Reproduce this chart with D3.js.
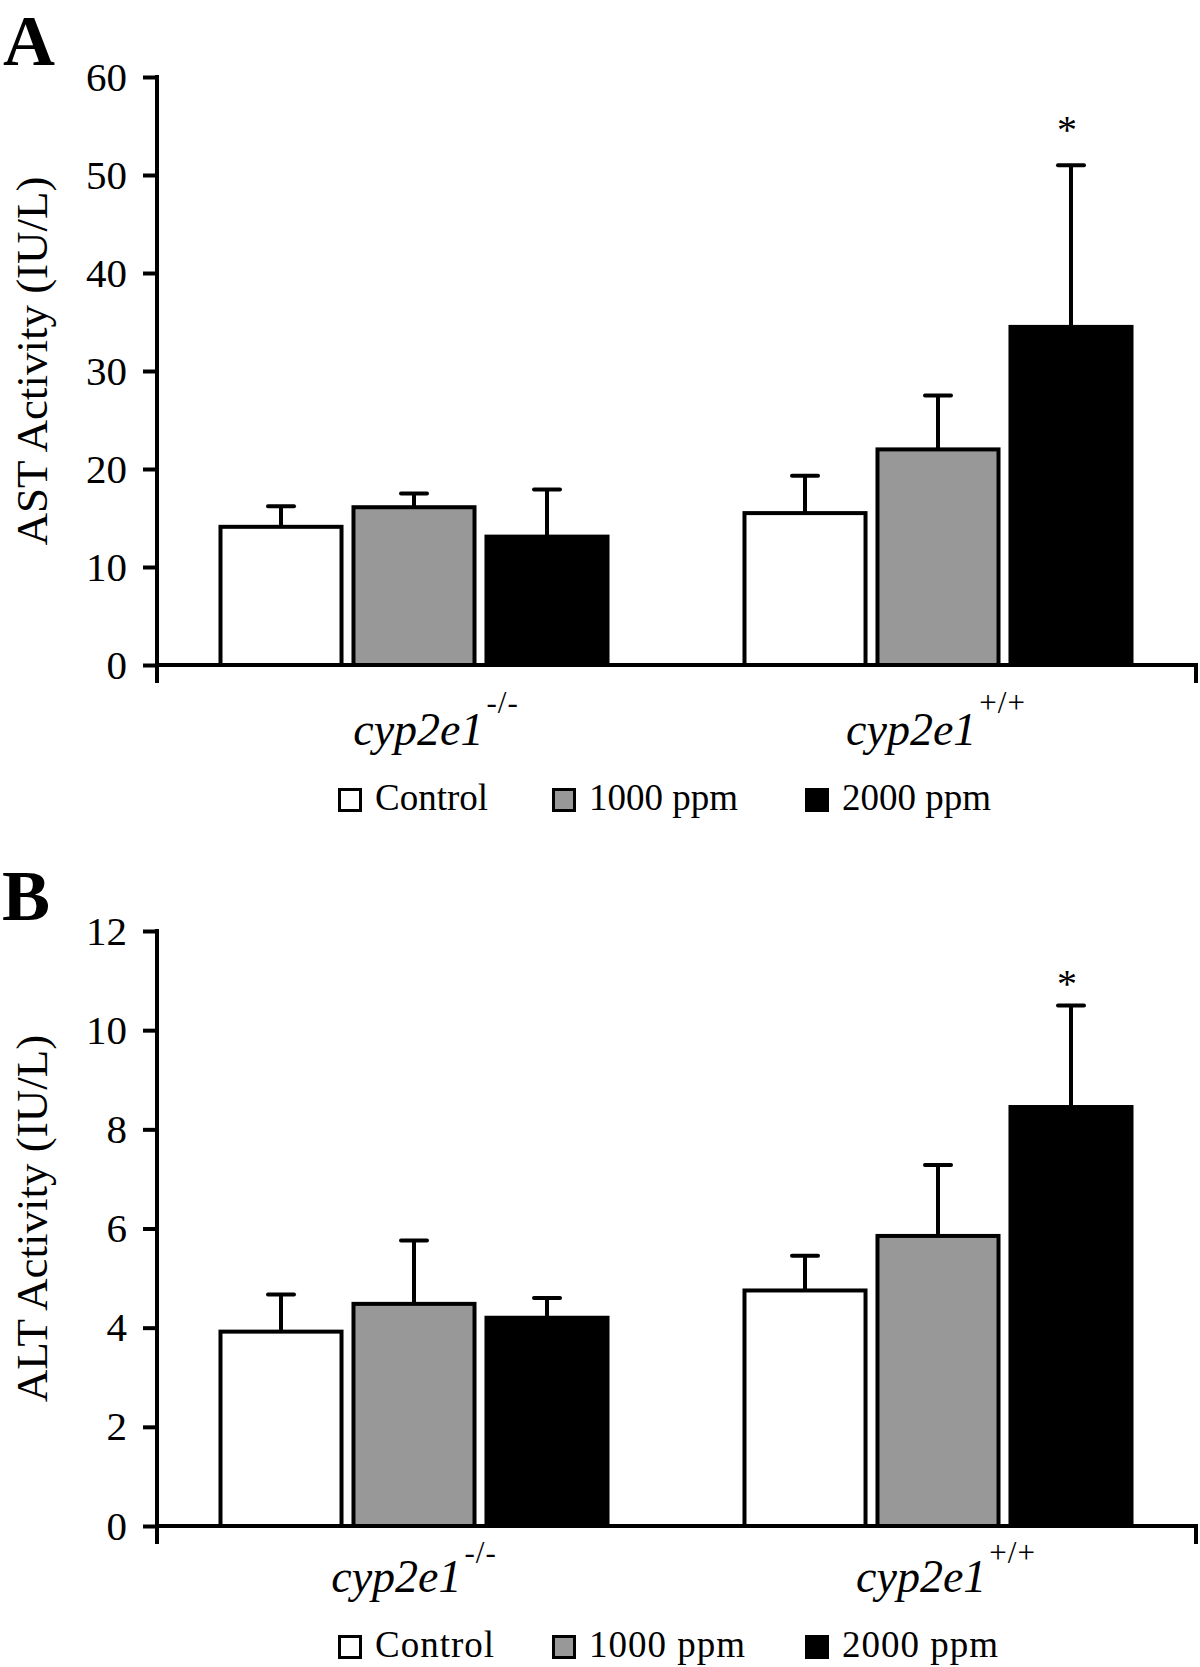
<!DOCTYPE html>
<html>
<head>
<meta charset="utf-8">
<script src="https://cdn.jsdelivr.net/npm/d3@7"></script>
<style>
  html, body { margin: 0; padding: 0; background: #fff; }
  svg { display: block; }
  text { font-family: "Liberation Serif", "Times New Roman", serif; fill: #000; }
</style>
</head>
<body>
<div id="chart"></div>
<script>
// ---------------- data ----------------
const groups = ["cyp2e1", "cyp2e1"];
const groupSup = ["-/-", "+/+"];
const series = ["Control", "1000 ppm", "2000 ppm"];

const astTicks = [0, 10, 20, 30, 40, 50, 60];
const astMean = [[14.1, 16.1, 13.1], [15.5, 22.0, 34.5]];
const astSD   = [[2.1, 1.4, 4.8], [3.8, 5.5, 16.5]];

const altTicks = [0, 2, 4, 6, 8, 10, 12];
const altMean = [[3.92, 4.48, 4.20], [4.75, 5.85, 8.45]];
const altSD   = [[0.75, 1.28, 0.40], [0.70, 1.43, 2.05]];

const significant = [[false, false, false], [false, false, true]];

// ---------------- styles ----------------
const seriesFill = ["#ffffff", "#989898", "#000000"];

const W = 1200, H = 1667;
const svg = d3.select("#chart").append("svg").attr("width", W).attr("height", H);

const AXIS_X = 157, AXIS_END = 1198;

function drawPanel(cfg) {
  const g = svg.append("g");
  const y = d3.scaleLinear().domain([cfg.ticks[0], cfg.ticks[cfg.ticks.length - 1]]).range(cfg.yRange);
  const x0 = d3.scaleBand().domain(d3.range(groups.length)).range([152, 1200]).padding(0);
  const x1 = d3.scaleBand().domain(d3.range(series.length)).range([0, x0.bandwidth()])
    .paddingInner(0.09).paddingOuter(0.515);

  // panel letter
  g.append("text").attr("x", cfg.letterPos[0]).attr("y", cfg.letterPos[1])
    .attr("font-size", 72).attr("font-weight", "bold").text(cfg.letter);

  // y axis title
  g.append("text")
    .attr("transform", `translate(47,${(cfg.yRange[0] + cfg.yRange[1]) / 2 - 10}) rotate(-90)`)
    .attr("text-anchor", "middle").attr("font-size", 45).text(cfg.title);

  // bars
  const grp = g.selectAll("g.grp").data(cfg.mean).join("g").attr("class", "grp")
    .attr("transform", (d, i) => `translate(${x0(i)},0)`);
  grp.each(function (vals, gi) {
    const sel = d3.select(this);
    vals.forEach((v, si) => {
      const bx = x1(si), bw = x1.bandwidth();
      const top = y(v), errTop = y(v + cfg.sd[gi][si]);
      const cx = bx + bw / 2;
      // error bar (upper only)
      sel.append("line").attr("x1", cx).attr("x2", cx).attr("y1", top).attr("y2", errTop)
        .attr("stroke", "#000").attr("stroke-width", 4);
      sel.append("line").attr("x1", cx - 13).attr("x2", cx + 13).attr("y1", errTop).attr("y2", errTop)
        .attr("stroke", "#000").attr("stroke-width", 4).attr("stroke-linecap", "round");
      sel.append("rect").attr("x", bx).attr("y", top).attr("width", bw).attr("height", y(0) - top)
        .attr("fill", seriesFill[si]).attr("stroke", "#000").attr("stroke-width", 4);
      if (significant[gi][si]) {
        sel.append("text").attr("x", cx - 4).attr("y", errTop - cfg.starOffset)
          .attr("text-anchor", "middle").attr("font-size", 40).text("*");
      }
    });
  });

  // y axis
  const ax = g.append("g").attr("transform", `translate(${AXIS_X},0)`)
    .call(d3.axisLeft(y).tickValues(cfg.ticks).tickSize(14).tickPadding(16).tickSizeOuter(0));
  ax.select(".domain").remove();
  ax.selectAll(".tick line").attr("stroke", "#000").attr("stroke-width", 4);
  ax.selectAll(".tick text").attr("font-size", 41)
    .attr("font-family", "'Liberation Serif', 'Times New Roman', serif").attr("fill", "#000");
  g.append("line").attr("x1", AXIS_X).attr("x2", AXIS_X)
    .attr("y1", cfg.yRange[1] - 2).attr("y2", y(0) + 18)
    .attr("stroke", "#000").attr("stroke-width", 4);

  // x axis
  g.append("line").attr("x1", AXIS_X).attr("x2", AXIS_END).attr("y1", y(0)).attr("y2", y(0))
    .attr("stroke", "#000").attr("stroke-width", 4);
  g.append("line").attr("x1", AXIS_END - 2).attr("x2", AXIS_END - 2).attr("y1", y(0)).attr("y2", y(0) + 18)
    .attr("stroke", "#000").attr("stroke-width", 4);

  // category labels
  groups.forEach((name, i) => {
    const t = g.append("text")
      .attr("x", x0(i) + x0.bandwidth() / 2 + cfg.labelDx[i])
      .attr("y", cfg.catBaseline).attr("text-anchor", "middle");
    t.append("tspan").attr("font-size", 46).attr("font-style", "italic").text(name);
    t.append("tspan").attr("font-size", 31).attr("letter-spacing", 1)
      .attr("dx", 3).attr("dy", -cfg.supRaise).text(groupSup[i]);
  });

  // legend
  const legendX = [338, 552, 805];
  series.forEach((s, i) => {
    g.append("rect").attr("x", legendX[i] + 1.5).attr("y", cfg.legendY + 1.5)
      .attr("width", 21).attr("height", 21)
      .attr("fill", seriesFill[i]).attr("stroke", "#000").attr("stroke-width", 3);
    g.append("text").attr("x", legendX[i] + 37).attr("y", cfg.legendY + 22)
      .attr("font-size", 37).attr("letter-spacing", cfg.legendSpacing).text(s);
  });
}

drawPanel({
  letter: "A", letterPos: [3, 65], title: "AST Activity (IU/L)",
  ticks: astTicks, yRange: [665, 77], mean: astMean, sd: astSD,
  starOffset: 22, labelDx: [22, -2], catBaseline: 745, supRaise: 32,
  legendY: 788, legendSpacing: 0
});
drawPanel({
  letter: "B", letterPos: [2, 920], title: "ALT Activity (IU/L)",
  ticks: altTicks, yRange: [1526, 931], mean: altMean, sd: altSD,
  starOffset: 8, labelDx: [0, 8], catBaseline: 1592, supRaise: 29,
  legendY: 1635, legendSpacing: 1
});
</script>
</body>
</html>
